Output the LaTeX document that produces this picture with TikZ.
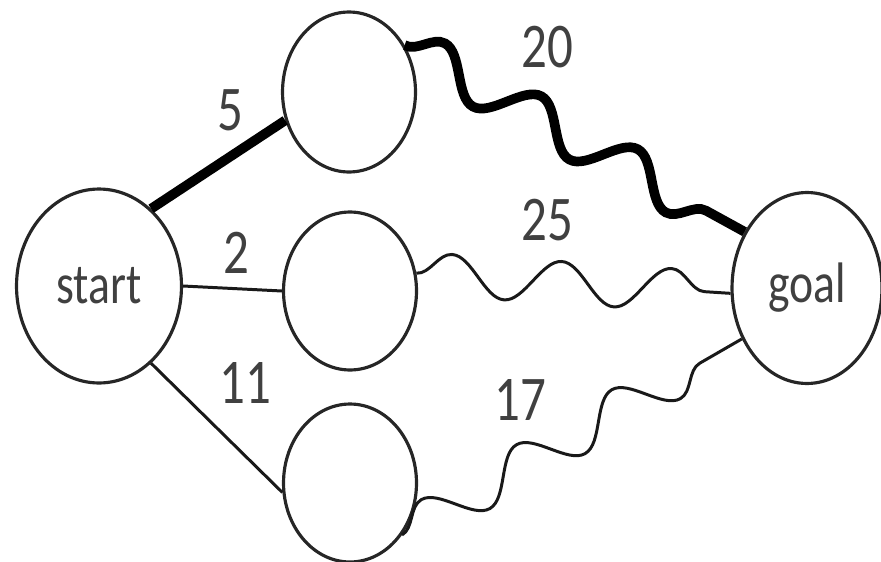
\documentclass[tikz,border=0pt]{standalone}
\usepackage{fontspec}
\setmainfont{Carlito}
\usepackage{graphicx}
\usetikzlibrary{shapes.geometric, decorations.pathmorphing}

\newcommand{\tallx}[1]{\scalebox{1}[1.25]{#1}}

\begin{document}
\begin{tikzpicture}[x=0.02cm, y=-0.02cm,
    state/.style={draw=black!85, line width=1.8pt, ellipse, inner sep=0pt,
                  font=\fontsize{26}{26}\selectfont, text=black!75},
    cost/.style={font=\fontsize{29}{29}\selectfont, text=black!75},
    edge/.style={draw=black!90, line width=1.7pt},
    best/.style={draw=black, line width=5.5pt},
    wavy/.style={decorate, decoration={snake, segment length=2.2cm, amplitude=0.42cm}}]
  \useasboundingbox (0,0) rectangle (881,561);

  % States
  \node[state, minimum width=3.3cm, minimum height=3.88cm] (start) at (99, 286) {\tallx{start}};
  \node[state, minimum width=2.66cm, minimum height=3.2cm] (top) at (349, 92) {};
  \node[state, minimum width=2.66cm, minimum height=3.16cm] (mid) at (350, 291) {};
  \node[state, minimum width=2.66cm, minimum height=3.16cm] (low) at (350, 483) {};
  \node[state, minimum width=3.0cm, minimum height=3.82cm] (goal) at (807, 288) {\tallx{goal}};

  % First step
  \draw[best] (start.56) -- (top.204);
  \draw[edge] (start.east) -- (mid.west);
  \draw[edge] (start.304) -- (low.188);

  % Rest of the way
  \draw[best, wavy] (top.40) -- (goal.138);
  \draw[edge, wavy] (mid.15) -- (goal.184);
  \draw[edge, wavy] (low.315) -- (goal.218);

  % Costs
  \foreach \x/\y/\c/\n in {230/110/5/c1, 236/253/2/c2, 245/383/11/c3,
                           547/47/20/c4, 547/220/25/c5, 520/400/17/c6} {
    \node[cost] (\n) at (\x, \y) {\tallx{\c}};
  }
\end{tikzpicture}
\end{document}
